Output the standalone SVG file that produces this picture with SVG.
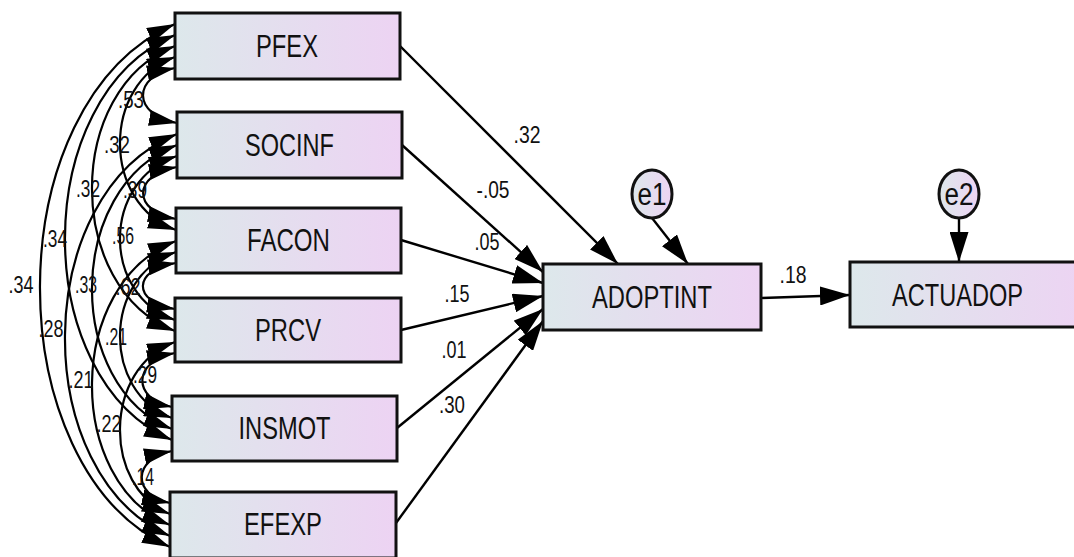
<svg xmlns="http://www.w3.org/2000/svg" width="1074" height="557" viewBox="0 0 1074 557">
<defs>
<linearGradient id="g" x1="0" y1="0" x2="1" y2="0">
<stop offset="0" stop-color="#dde8eb"/>
<stop offset="1" stop-color="#edd3f3"/>
</linearGradient>
<marker id="ah" markerUnits="userSpaceOnUse" markerWidth="30" markerHeight="19" refX="30" refY="9.5" orient="auto" viewBox="0 0 30 19">
<path d="M0,0 L30,9.5 L0,19 z" fill="#000"/>
</marker>
<marker id="ch" markerUnits="userSpaceOnUse" markerWidth="28" markerHeight="16" refX="28" refY="8" orient="auto-start-reverse" viewBox="0 0 28 16">
<path d="M0,0 L28,8 L0,16 z" fill="#000"/>
</marker>
</defs>
<style>
.box{fill:url(#g);stroke:#111;stroke-width:3}
.nt{font-family:"Liberation Sans",Arial,sans-serif;font-size:31px;fill:#111;text-anchor:middle}
.lb{font-family:"Liberation Sans",Arial,sans-serif;font-size:23px;fill:#111;text-anchor:middle}
.reg{fill:none;stroke:#000;stroke-width:2.4;marker-end:url(#ah)}
.cor{fill:none;stroke:#000;stroke-width:2.2;marker-start:url(#ch);marker-end:url(#ch)}
</style>
<rect width="1074" height="557" fill="#fff"/>

<g id="connectors">
<path class="cor" d="M175,68 C132,76.3 132,114.8 177,123"/>
<path class="cor" d="M175,57 C101.5,83 101.5,204 176,230"/>
<path class="cor" d="M175,46 C64.3,88.8 64.3,288.3 175,331"/>
<path class="cor" d="M175,35 C28.8,95.8 28.8,379.3 172,440"/>
<path class="cor" d="M175,24 C-4.2,102.5 -4.2,468.5 170,547"/>
<path class="cor" d="M177,167 C132,174.8 132,211.2 176,219"/>
<path class="cor" d="M177,156 C101.3,180.6 101.3,295.4 175,320"/>
<path class="cor" d="M177,145 C64.5,187.6 64.5,386.4 172,429"/>
<path class="cor" d="M177,134 C28.8,194.3 28.8,475.7 170,536"/>
<path class="cor" d="M176,263 C132,269.9 132,302.1 175,309"/>
<path class="cor" d="M176,252 C102,276.9 102,393.1 172,418"/>
<path class="cor" d="M176,241 C65,283.6 65,482.4 170,525"/>
<path class="cor" d="M175,353 C132,361.1 132,398.9 172,407"/>
<path class="cor" d="M175,342 C102.5,367.8 102.5,488.2 170,514"/>
<path class="cor" d="M172,451 C132,458.8 132,495.2 170,503"/>

<line class="reg" x1="400" y1="46" x2="618" y2="264"/>
<line class="reg" x1="402" y1="145" x2="543" y2="272"/>
<line class="reg" x1="401" y1="240" x2="543" y2="283"/>
<line class="reg" x1="401" y1="330" x2="543" y2="296"/>
<line class="reg" x1="397" y1="428" x2="543" y2="309"/>
<line class="reg" x1="396" y1="523" x2="543" y2="321"/>
<line class="reg" x1="652" y1="218" x2="688" y2="264"/>
<line class="reg" x1="959" y1="218" x2="959" y2="262"/>
<line class="reg" x1="761" y1="298" x2="850" y2="295"/>

<text class="lb" x="131" y="108" textLength="26" lengthAdjust="spacingAndGlyphs">.53</text>
<text class="lb" x="117" y="153" textLength="26" lengthAdjust="spacingAndGlyphs">.32</text>
<text class="lb" x="88" y="197" textLength="24" lengthAdjust="spacingAndGlyphs">.32</text>
<text class="lb" x="135" y="198" textLength="24" lengthAdjust="spacingAndGlyphs">.39</text>
<text class="lb" x="55" y="247" textLength="24" lengthAdjust="spacingAndGlyphs">.34</text>
<text class="lb" x="123" y="244" textLength="22" lengthAdjust="spacingAndGlyphs">.56</text>
<text class="lb" x="21" y="293" textLength="25" lengthAdjust="spacingAndGlyphs">.34</text>
<text class="lb" x="86" y="293" textLength="22" lengthAdjust="spacingAndGlyphs">.33</text>
<text class="lb" x="128" y="295" textLength="25" lengthAdjust="spacingAndGlyphs">.62</text>
<text class="lb" x="51" y="337" textLength="25" lengthAdjust="spacingAndGlyphs">.28</text>
<text class="lb" x="116" y="345" textLength="22" lengthAdjust="spacingAndGlyphs">.21</text>
<text class="lb" x="81" y="388" textLength="25" lengthAdjust="spacingAndGlyphs">.21</text>
<text class="lb" x="145" y="383" textLength="24" lengthAdjust="spacingAndGlyphs">.29</text>
<text class="lb" x="109" y="432" textLength="25" lengthAdjust="spacingAndGlyphs">.22</text>
<text class="lb" x="143" y="485" textLength="22" lengthAdjust="spacingAndGlyphs">.14</text>

<text class="lb" x="527" y="143" textLength="27" lengthAdjust="spacingAndGlyphs">.32</text>
<text class="lb" x="493" y="198" textLength="33" lengthAdjust="spacingAndGlyphs">-.05</text>
<text class="lb" x="487" y="250" textLength="25" lengthAdjust="spacingAndGlyphs">.05</text>
<text class="lb" x="457" y="302" textLength="25" lengthAdjust="spacingAndGlyphs">.15</text>
<text class="lb" x="454" y="358" textLength="25" lengthAdjust="spacingAndGlyphs">.01</text>
<text class="lb" x="452" y="413" textLength="26" lengthAdjust="spacingAndGlyphs">.30</text>
<text class="lb" x="793" y="283" textLength="27" lengthAdjust="spacingAndGlyphs">.18</text>
</g>

<g id="PFEX"><rect class="box" x="175" y="13" width="225" height="66"/><text class="nt" x="287" y="57" textLength="62" lengthAdjust="spacingAndGlyphs">PFEX</text></g>
<g id="SOCINF"><rect class="box" x="177" y="112" width="225" height="66"/><text class="nt" x="289.5" y="156" textLength="89" lengthAdjust="spacingAndGlyphs">SOCINF</text></g>
<g id="FACON"><rect class="box" x="176" y="208" width="225" height="65"/><text class="nt" x="288.5" y="251" textLength="83" lengthAdjust="spacingAndGlyphs">FACON</text></g>
<g id="PRCV"><rect class="box" x="175" y="298" width="226" height="64"/><text class="nt" x="288" y="341" textLength="66" lengthAdjust="spacingAndGlyphs">PRCV</text></g>
<g id="INSMOT"><rect class="box" x="172" y="396" width="225" height="65"/><text class="nt" x="284.5" y="439" textLength="92" lengthAdjust="spacingAndGlyphs">INSMOT</text></g>
<g id="EFEXP"><rect class="box" x="170" y="492" width="226" height="66"/><text class="nt" x="283" y="535" textLength="78" lengthAdjust="spacingAndGlyphs">EFEXP</text></g>
<g id="ADOPTINT"><rect class="box" x="543" y="264" width="218" height="66"/><text class="nt" x="652" y="308" textLength="120" lengthAdjust="spacingAndGlyphs">ADOPTINT</text></g>
<g id="ACTUADOP"><rect class="box" x="850" y="262" width="240" height="65"/><text class="nt" x="957.5" y="306" textLength="131" lengthAdjust="spacingAndGlyphs">ACTUADOP</text></g>
<g id="e1"><ellipse class="box" cx="652" cy="194" rx="20" ry="24"/><text class="nt" x="652" y="205" textLength="29" lengthAdjust="spacingAndGlyphs">e1</text></g>
<g id="e2"><ellipse class="box" cx="959" cy="194" rx="20" ry="24"/><text class="nt" x="959" y="205" textLength="29" lengthAdjust="spacingAndGlyphs">e2</text></g>
</svg>
